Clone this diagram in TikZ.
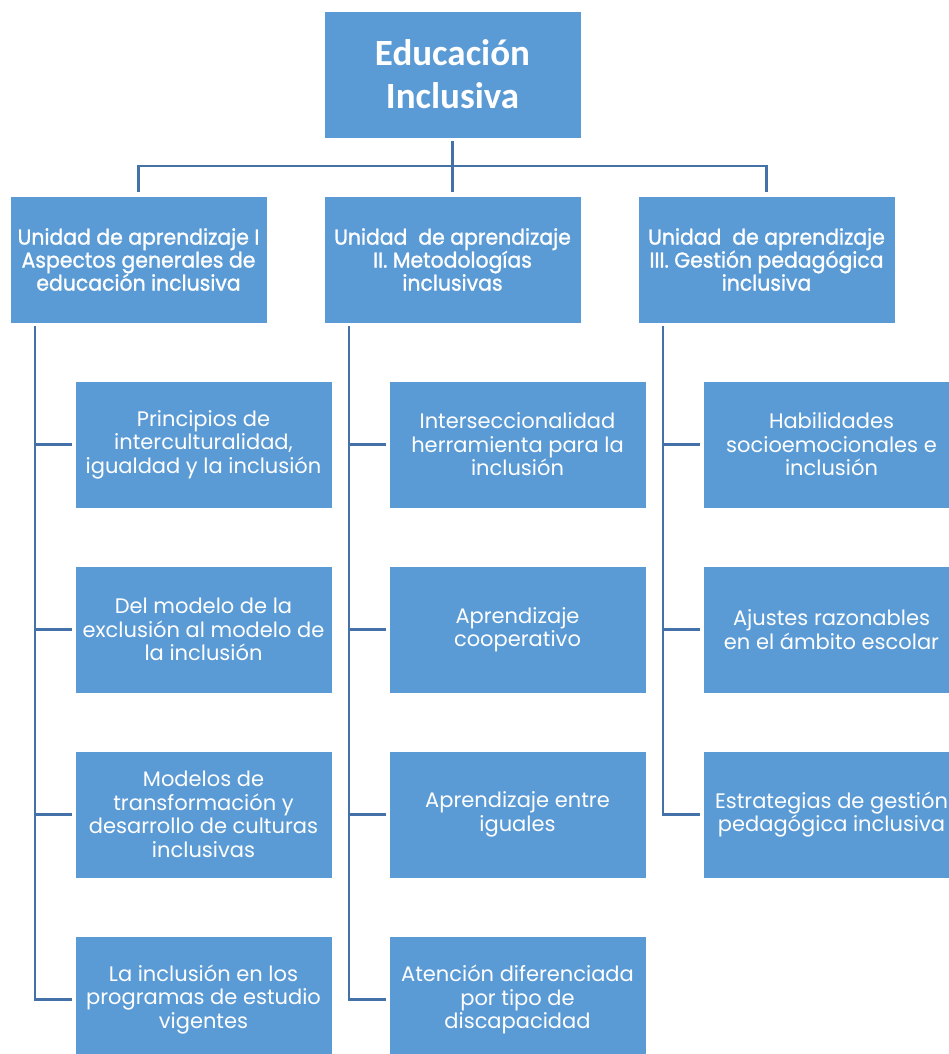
\documentclass[tikz,border=0pt]{standalone}
\usepackage{fontspec}
\setmainfont{Poppins}
\newfontfamily\titlefont{Carlito}
\newfontfamily\unitfont[FakeStretch=0.95,FakeBold=1.2]{Poppins}
\usetikzlibrary{positioning}
\definecolor{boxblue}{HTML}{5B9BD5}
\definecolor{lineblue}{HTML}{4472A8}
\tikzset{
  box/.style={fill=boxblue, draw=white, line width=0.6pt, text=white, inner sep=0pt, outer sep=0pt,
    minimum width=257pt, minimum height=127pt, align=center},
  unitbox/.style={box, font=\unitfont\fontsize{21.5}{23}\selectfont},
  topicbox/.style={box, font=\fontsize{21}{23.5}\selectfont},
  link/.style={draw=lineblue, line width=2.5pt}
}

\begin{document}
\begin{tikzpicture}[x=1pt, y=-1pt, node distance=58pt]
\useasboundingbox (0,0) rectangle (948,1054);
\node (E) [box, font=\titlefont\bfseries\fontsize{37}{43}\selectfont] at (452.5,74.5) {Educación\\Inclusiva};
  \node (U2) [unitbox, below=of E] {Unidad\ \ de aprendizaje\\II. Metodologías\\inclusivas};
  \node (U1) [unitbox, left=57pt of U2] {Unidad de aprendizaje I\\Aspectos generales de\\educación inclusiva};
  \node (U3) [unitbox, right=57pt of U2] {Unidad\ \ de aprendizaje\\III. Gestión pedagógica\\inclusiva};
  % primera unidad
  \node (A1) [topicbox, below right=58pt and 65pt of U1.south west] {Principios de\\interculturalidad,\\igualdad y la inclusión};
  \node (A2) [topicbox, below=of A1] {Del modelo de la\\exclusión al modelo de\\la inclusión};
  \node (A3) [topicbox, below=of A2] {Modelos de\\transformación y\\desarrollo de culturas\\inclusivas};
  \node (A4) [topicbox, below=of A3] {La inclusión en los\\programas de estudio\\vigentes};
  % segunda unidad
  \node (B1) [topicbox, below right=58pt and 65pt of U2.south west] {Interseccionalidad\\herramienta para la\\inclusión};
  \node (B2) [topicbox, below=of B1] {Aprendizaje\\cooperativo};
  \node (B3) [topicbox, below=of B2] {Aprendizaje entre\\iguales};
  \node (B4) [topicbox, below=of B3] {Atención diferenciada\\por tipo de\\discapacidad};
  % tercera unidad
  \node (C1) [topicbox, below right=58pt and 65pt of U3.south west] {Habilidades\\socioemocionales e\\inclusión};
  \node (C2) [topicbox, below=of C1] {Ajustes razonables\\en el ámbito escolar};
  \node (C3) [topicbox, below=of C2] {Estrategias de gestión\\pedagógica inclusiva};
   \draw[link, shorten <=3pt, shorten >=4pt] (E.south) to (U2.north);
   \draw[link, shorten >=4pt] (E.south) ++(0,28) -| (U1.north);
   \draw[link, shorten >=4pt] (E.south) ++(0,28) -| (U3.north);
   \draw[link, shorten >=3pt] ([shift={(25,3)}]U1.south west) |- (A1.west);
   \draw[link, shorten >=3pt] ([shift={(25,3)}]U1.south west) |- (A2.west);
   \draw[link, shorten >=3pt] ([shift={(25,3)}]U1.south west) |- (A3.west);
   \draw[link, shorten >=3pt] ([shift={(25,3)}]U1.south west) |- (A4.west);
   \draw[link, shorten >=3pt] ([shift={(25,3)}]U2.south west) |- (B1.west);
   \draw[link, shorten >=3pt] ([shift={(25,3)}]U2.south west) |- (B2.west);
   \draw[link, shorten >=3pt] ([shift={(25,3)}]U2.south west) |- (B3.west);
   \draw[link, shorten >=3pt] ([shift={(25,3)}]U2.south west) |- (B4.west);
   \draw[link, shorten >=3pt] ([shift={(25,3)}]U3.south west) |- (C1.west);
   \draw[link, shorten >=3pt] ([shift={(25,3)}]U3.south west) |- (C2.west);
   \draw[link, shorten >=3pt] ([shift={(25,3)}]U3.south west) |- (C3.west);
\end{tikzpicture}
\end{document}
